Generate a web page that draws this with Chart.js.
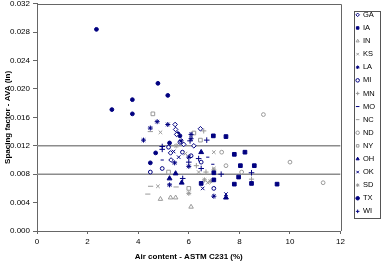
<!doctype html>
<html>
<head>
	<title>Spacing factor vs air content</title>
	<script src="https://cdn.jsdelivr.net/npm/chart.js@4.4.1/dist/chart.umd.min.js"></script>
	<style>
	html, body { margin: 0; padding: 0; background: #fff; }
	canvas { display: block; }
	</style>
</head>
<body>
	<canvas id="canvas" width="381" height="263"></canvas>
	<script>
		// [air content %, spacing factor in] per state
		const gaPts = [[5.46,0.0150],[5.48,0.0143],[5.52,0.0136],[5.28,0.0110],[6.46,0.0144],[5.30,0.0100],[5.80,0.0122],[6.20,0.0120]];
		const iaPts = [[6.97,0.0134],[7.47,0.0133],[7.80,0.0108],[8.22,0.0111],[8.04,0.0092],[8.59,0.0092],[6.99,0.0082],[7.97,0.0076],[6.49,0.0067],[6.99,0.0072],[7.80,0.0066],[8.48,0.0067],[9.49,0.0066]];
		const inPts = [[4.88,0.0045],[5.28,0.0047],[5.48,0.0047],[6.09,0.0034]];
		const ksPts = [[4.88,0.0139],[5.87,0.0109],[6.99,0.0111],[6.39,0.0083],[4.78,0.0063],[6.75,0.0068],[6.99,0.0088]];
		const laPts = [[4.75,0.0154],[5.17,0.0150],[4.48,0.0145],[4.21,0.0128],[6.09,0.0136],[6.09,0.0130],[5.44,0.0096],[6.00,0.0091],[6.00,0.0104],[5.24,0.0065],[6.99,0.0049],[5.70,0.0127]];
		const miPts = [[4.48,0.0083],[4.95,0.0088],[6.99,0.0060],[6.49,0.0097],[5.65,0.0125],[6.09,0.0106],[5.75,0.0111],[5.20,0.0118]];
		const mnPts = [[6.59,0.0141],[6.68,0.0083],[8.48,0.0073],[6.30,0.0092]];
		const moPts = [[4.95,0.0100],[6.75,0.0104],[6.95,0.0094]];
		const ncPts = [[4.48,0.0140],[4.49,0.0063],[4.38,0.0052],[5.50,0.0062]];
		const ndPts = [[8.95,0.0164],[10.0,0.0097],[11.31,0.0068],[8.09,0.0083],[7.30,0.0111],[7.47,0.0092]];
		const nyPts = [[4.58,0.0165],[6.20,0.0138],[6.46,0.0128],[5.20,0.0083],[6.00,0.0060]];
		const ohPts = [[6.49,0.0111],[5.48,0.0081],[5.24,0.0074],[5.72,0.0068],[7.47,0.0047]];
		const okPts = [[7.47,0.0052],[6.55,0.0060],[5.40,0.0112],[5.60,0.0104]];
		const sdPts = [[6.62,0.0072],[6.00,0.0053],[6.85,0.0070],[6.99,0.0086],[5.50,0.0120]];
		const txPts = [[2.35,0.0284],[2.96,0.0171],[3.77,0.0185],[3.77,0.0165],[4.78,0.0208],[5.17,0.0191],[5.57,0.0137],[5.65,0.0134],[5.24,0.0124],[4.69,0.0110],[4.48,0.0096]];
		const wiPts = [[4.95,0.0115],[4.95,0.0119],[6.39,0.0102],[6.00,0.0097],[6.49,0.0088],[7.28,0.0080],[5.76,0.0074],[8.48,0.0082],[6.71,0.0128],[6.05,0.0127]];

		const limitLines = [0.008, 0.012];

		const NAVY = '#000080';
		const GREY = '#999999';

		const series = [
			{ label: 'GA', pts: gaPts, style: 'rectRot', color: NAVY, fill: false, r: 2.3 },
			{ label: 'IA', pts: iaPts, style: 'rect', color: NAVY, fill: true, r: 2.6 },
			{ label: 'IN', pts: inPts, style: 'triangle', color: GREY, fill: false, r: 2.6 },
			{ label: 'KS', pts: ksPts, style: 'crossRot', color: GREY, fill: false, r: 2.5 },
			{ label: 'LA', pts: laPts, style: 'star', color: NAVY, fill: false, r: 2.5 },
			{ label: 'MI', pts: miPts, style: 'circle', color: NAVY, fill: false, r: 1.9 },
			{ label: 'MN', pts: mnPts, style: 'cross', color: GREY, fill: false, r: 2.6 },
			{ label: 'MO', pts: moPts, style: 'line', color: NAVY, fill: false, r: 1.6 },
			{ label: 'NC', pts: ncPts, style: 'line', color: GREY, fill: false, r: 2.6 },
			{ label: 'ND', pts: ndPts, style: 'circle', color: GREY, fill: false, r: 1.9 },
			{ label: 'NY', pts: nyPts, style: 'rect', color: GREY, fill: false, r: 2.6 },
			{ label: 'OH', pts: ohPts, style: 'triangle', color: NAVY, fill: true, r: 2.8 },
			{ label: 'OK', pts: okPts, style: 'crossRot', color: NAVY, fill: false, r: 2.5 },
			{ label: 'SD', pts: sdPts, style: 'star', color: GREY, fill: false, r: 2.5 },
			{ label: 'TX', pts: txPts, style: 'circle', color: NAVY, fill: true, r: 1.9 },
			{ label: 'WI', pts: wiPts, style: 'cross', color: NAVY, fill: false, r: 2.8 }
		];

		const datasets = series.map(s => ({
			label: s.label,
			data: s.pts.map(p => ({ x: p[0], y: p[1] })),
			pointStyle: s.style,
			pointRadius: s.r,
			pointHoverRadius: s.r,
			borderColor: s.color,
			backgroundColor: s.fill ? s.color : '#ffffff',
			borderWidth: 1,
			order: 0
		}));

		limitLines.forEach(v => {
			datasets.push({
				label: 'limit',
				data: [{ x: 0, y: v }, { x: 12, y: v }],
				showLine: true,
				pointRadius: 0,
				borderColor: '#8c8c8c',
				borderWidth: 1.5,
				order: 1
			});
		});

		// plot frame + boxed legend like the spreadsheet original
		const frame = {
			id: 'frame',
			afterLayout(chart) {
				const lg = chart.legend;
				lg.left += 10;
				lg.right += 10;
				const h = lg.bottom - lg.top;
				lg.top = 5.5;
				lg.bottom = lg.top + h;
			},
			afterDraw(chart) {
				const { ctx, chartArea: a, legend: lg } = chart;
				ctx.save();
				ctx.strokeStyle = '#666666';
				ctx.lineWidth = 1;
				ctx.beginPath();
				ctx.moveTo(a.left, Math.round(a.top) + 0.5);
				ctx.lineTo(Math.round(a.right) + 0.5, Math.round(a.top) + 0.5);
				ctx.lineTo(Math.round(a.right) + 0.5, a.bottom);
				ctx.stroke();
				ctx.strokeStyle = '#555555';
				ctx.strokeRect(Math.round(lg.left + 3) + 0.5, 11.5, 26, 207);
				ctx.restore();
			}
		};

		Chart.defaults.font.family = 'Arial, "Liberation Sans", sans-serif';
		Chart.defaults.color = '#000';

		new Chart(document.getElementById('canvas'), {
			type: 'scatter',
			data: { datasets: datasets },
			plugins: [frame],
			options: {
				responsive: false,
				animation: false,
				layout: { padding: { right: 6 } },
				plugins: {
					tooltip: { enabled: false },
					legend: {
						position: 'right',
						align: 'start',
						maxWidth: 40,
						labels: {
							usePointStyle: true,
							boxWidth: 3,
							boxHeight: 2.5,
							padding: 5.6,
							font: { size: 7.5 },
							color: '#000',
							filter: item => item.text !== 'limit'
						}
					}
				},
				scales: {
					x: {
						type: 'linear',
						min: 0,
						max: 12,
						ticks: { stepSize: 2, font: { size: 8 }, padding: 3, color: '#000' },
						grid: { drawOnChartArea: false, drawTicks: true, tickLength: 3, color: '#666' },
						border: { color: '#666' },
						title: {
							display: true,
							text: 'Air content - ASTM C231 (%)',
							font: { size: 8, weight: 'bold' },
							padding: { top: 2, bottom: 1.5 }
						},
						afterFit: s => { s.height = 32; }
					},
					y: {
						min: 0,
						max: 0.032,
						ticks: {
							stepSize: 0.004,
							font: { size: 8 },
							padding: 3,
							color: '#000',
							callback: v => v.toFixed(3)
						},
						grid: { drawOnChartArea: false, drawTicks: true, tickLength: 4, color: '#666' },
						border: { color: '#666' },
						title: {
							display: true,
							text: 'Spacing factor - AVA (in)',
							font: { size: 8, weight: 'bold' },
							padding: { top: 3, bottom: 1 }
						},
						afterFit: s => { s.width = 37; s.paddingTop = 3; }
					}
				}
			}
		});
	</script>
</body>
</html>
